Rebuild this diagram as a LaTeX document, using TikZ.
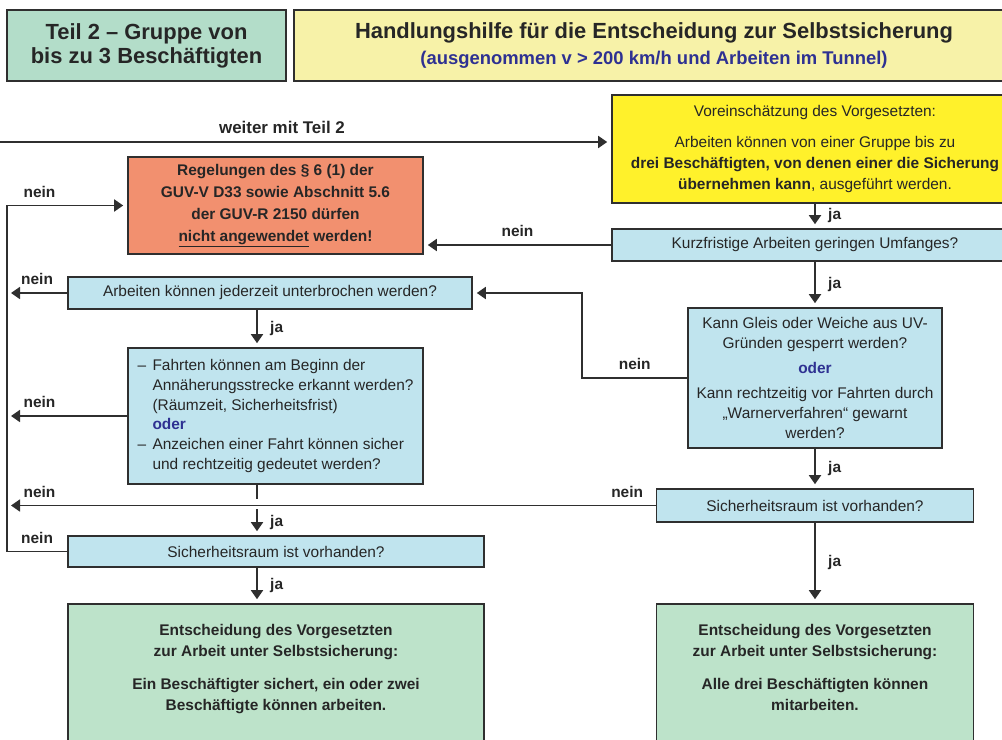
\documentclass[tikz,border=0pt]{standalone}
\usepackage{fontspec}
\setmainfont{Liberation Sans}
\usetikzlibrary{arrows.meta}

\definecolor{hdrgreen}{HTML}{B3DDC9}
\definecolor{hdryellow}{HTML}{F7F2A8}
\definecolor{vyellow}{HTML}{FFF12B}
\definecolor{regelred}{HTML}{F2906F}
\definecolor{qblue}{HTML}{C0E4EE}
\definecolor{okgreen}{HTML}{BDE3CA}
\definecolor{linec}{HTML}{2F2F2F}
\definecolor{txt}{HTML}{262626}
\definecolor{oderblue}{HTML}{2E3192}

\begin{document}
\begin{tikzpicture}[x=1bp, y=-1bp,
    box/.style = {draw=linec, line width=1.6bp, inner sep=0pt, align=center, text=txt, font=\fontsize{15.5}{20}\selectfont},
    qbox/.style = {box, fill=qblue},
    endbox/.style = {box, fill=okgreen, font=\fontsize{15.5}{21}\selectfont\bfseries},
    arr/.style = {draw=linec, line width=1.8bp, -{Triangle[width=12bp,length=9bp]}, shorten >=4bp},
    ja/.style = {midway, right=9bp, text=txt, font=\fontsize{15.5}{18}\selectfont\bfseries},
    nein/.style = {above=4bp, text=txt, font=\fontsize{15.5}{18}\selectfont\bfseries}]

    \useasboundingbox (0,0) rectangle (1002,740);
    \clip (0,0) rectangle (1002,740);

    % header
    \node at (146.5, 45.5) [box, fill=hdrgreen, minimum width=279bp, minimum height=71bp, font=\fontsize{22}{24}\selectfont\bfseries] (teil) {Teil 2 – Gruppe von\\bis zu 3 Beschäftigten};
    \node at (654, 45.5) [box, fill=hdryellow, minimum width=720bp, minimum height=71bp, font=\fontsize{18.5}{26}\selectfont\bfseries] (titel) {{\fontsize{22}{26}\selectfont Handlungshilfe für die Entscheidung zur Selbstsicherung}\\{\color{oderblue}(ausgenommen v > 200 km/h und Arbeiten im Tunnel)}};

    % right column
    \node at (815, 149) [box, fill=vyellow, minimum width=406bp, minimum height=108bp, font=\fontsize{15.5}{21}\selectfont] (vor) {Voreinschätzung des Vorgesetzten:\\[10bp]Arbeiten können von einer Gruppe bis zu\\\textbf{drei Beschäftigten, von denen einer die Sicherung}\\\textbf{übernehmen kann}, ausgeführt werden.};
    \node at (815, 245) [qbox, minimum width=406bp, minimum height=32bp] (kurz) {Kurzfristige Arbeiten geringen Umfanges?};
    \node at (815, 378) [qbox, minimum width=254bp, minimum height=140bp] (kann) {Kann Gleis oder Weiche aus UV-\\Gründen gesperrt werden?\\[5bp]\textbf{\color{oderblue}oder}\\[5bp]Kann rechtzeitig vor Fahrten durch\\„Warnerverfahren“ gewarnt\\werden?};
    \node at (815, 505.5) [qbox, minimum width=317bp, minimum height=33bp] (sichR) {Sicherheitsraum ist vorhanden?};
    \node at (815, 694) [endbox, minimum width=317bp, minimum height=180bp] (endR) {Entscheidung des Vorgesetzten\\zur Arbeit unter Selbstsicherung:\\[12bp]Alle drei Beschäftigten können\\mitarbeiten.\\[32bp]\mbox{}};

    % left column
    \node at (275.5, 205.5) [box, fill=regelred, minimum width=295bp, minimum height=97bp, font=\fontsize{15.5}{22}\selectfont\bfseries] (regel) {Regelungen des § 6 (1) der\\GUV-V D33 sowie Abschnitt 5.6\\der GUV-R 2150 dürfen\\\underline{nicht angewendet} werden!};
    \node at (270, 293) [qbox, minimum width=404bp, minimum height=32bp] (unterbr) {Arbeiten können jederzeit unterbrochen werden?};
    \node at (275.5, 416) [qbox, minimum width=295bp, minimum height=136bp, align=left] (fahrt) {\makebox[15bp][l]{–}Fahrten können am Beginn der\\\hspace*{15bp}Annäherungsstrecke erkannt werden?\\\hspace*{15bp}(Räumzeit, Sicherheitsfrist)\\\hspace*{15bp}\textbf{\color{oderblue}oder}\\\makebox[15bp][l]{–}Anzeichen einer Fahrt können sicher\\\hspace*{15bp}und rechtzeitig gedeutet werden?};
    \node at (276, 551.5) [qbox, minimum width=416bp, minimum height=31bp] (sichL) {Sicherheitsraum ist vorhanden?};
    \node at (276, 694) [endbox, minimum width=416bp, minimum height=180bp] (endL) {Entscheidung des Vorgesetzten\\zur Arbeit unter Selbstsicherung:\\[12bp]Ein Beschäftigter sichert, ein oder zwei\\Beschäftigte können arbeiten.\\[32bp]\mbox{}};

    \coordinate (w0) at (0, 142);
    \coordinate (lft) at (7, 0);
    \coordinate (lc) at (257, 0);
    \coordinate (gapA) at (257, 499);
    \coordinate (gapB) at (257, 509);

    \node at (282, 127) [text=txt, font=\fontsize{17}{20}\selectfont\bfseries] (weiter) {weiter mit Teil 2};
    \draw[arr] (w0) -- (w0 -| vor.west);

    \draw[arr] (vor.south) -- (kurz.north) node[ja] {ja};
    \draw[arr] (kurz.west) -- (kurz.west -| regel.east) node[midway, nein] {nein};
    \draw[arr] (kurz.south) -- (kann.north) node[ja] {ja};
    \draw[arr] (kann.west) -- ++(-105, 0) node[midway, nein] {nein} |- (unterbr.east);
    \draw[arr] (kann.south) -- (sichR.north) node[ja] {ja};
    \draw[arr] (sichR.west) -- (lft |- sichR.west) node[pos=0.044, nein] {nein} node[pos=0.95, nein] {nein};
    \draw[arr] (sichR.south) -- (endR.north) node[ja] {ja};

    \draw[arr] (unterbr.west) -- (lft |- unterbr.west) node[midway, nein] {nein};
    \draw[arr] (unterbr.south -| lc) -- (fahrt.north -| lc) node[ja] {ja};
    \draw[arr] (fahrt.west) -- (lft |- fahrt.west) node[pos=0.73, nein] {nein};
    \draw[draw=linec, line width=1.8bp] (fahrt.south -| lc) -- (gapA);
    \draw[arr] (gapB) -- (sichL.north -| lc) node[ja] {ja};
    \draw[arr] (sichL.west) -- (lft |- sichL.west) node[midway, nein] {nein} -- (lft |- regel.west) -- (regel.west) node[pos=0.27, nein] {nein};
    \draw[arr] (sichL.south -| lc) -- (endL.north -| lc) node[ja] {ja};
\end{tikzpicture}
\end{document}
